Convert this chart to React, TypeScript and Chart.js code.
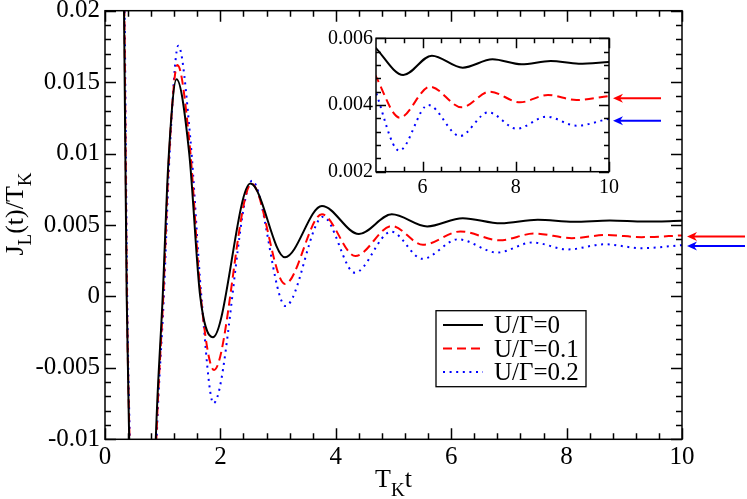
import { useEffect, useRef } from 'react';
import { Chart, registerables } from 'chart.js';

Chart.register(...registerables);

// ---------- data ----------
const seriesLabels = ['U/Γ=0', 'U/Γ=0.1', 'U/Γ=0.2'];

const tU0 = [0.0, 0.3, 0.33, 0.376, 0.42, 0.65, 0.88, 1.0, 1.1, 1.24, 1.46, 1.65, 1.87, 2.52, 3.12, 3.76, 4.4, 4.97, 5.585, 6.2, 6.86, 7.5, 8.12, 8.75, 9.35, 10.0];
const jU0 = [0.08, 0.03, 0.02, 0.0, -0.01, -0.045, -0.01, 0.0, 0.0095, 0.0152, 0.01, 0.0, -0.00286, 0.0079, 0.00274, 0.00633, 0.00437, 0.00575, 0.0049, 0.00548, 0.00512, 0.00537, 0.00522, 0.00532, 0.00524, 0.00529];

const tU01 = [0.0, 0.3, 0.335, 0.38, 0.425, 0.65, 0.89, 1.01, 1.11, 1.255, 1.47, 1.66, 1.89, 2.54, 3.12, 3.76, 4.34, 4.97, 5.51, 6.16, 6.84, 7.44, 8.09, 8.69, 9.3, 10.0];
const jU01 = [0.08, 0.031, 0.02, 0.0, -0.01, -0.045, -0.01, 0.0, 0.0098, 0.0162, 0.0105, 0.0, -0.00515, 0.0079, 0.00087, 0.00575, 0.00283, 0.00493, 0.00362, 0.00455, 0.00393, 0.0044, 0.00408, 0.0043, 0.00415, 0.00427];

const tU02 = [0.0, 0.3, 0.34, 0.385, 0.43, 0.65, 0.895, 1.02, 1.12, 1.27, 1.48, 1.67, 1.88, 2.55, 3.13, 3.78, 4.33, 4.96, 5.5, 6.12, 6.8, 7.41, 8.02, 8.66, 9.3, 10.0];
const jU02 = [0.08, 0.032, 0.02, 0.0, -0.01, -0.045, -0.01, 0.0, 0.01, 0.01755, 0.011, 0.0, -0.00748, 0.0081, -0.00067, 0.00558, 0.00166, 0.00453, 0.00263, 0.004, 0.00307, 0.00378, 0.00329, 0.00365, 0.00338, 0.00359];

// asymptotic values marked by arrows (U/Γ=0.1, U/Γ=0.2)
const arrowValues = [0.0042, 0.00353];

// tick labels
const mainXTicks = [0, 2, 4, 6, 8, 10];
const mainYTicks = [-0.01, -0.005, 0, 0.005, 0.01, 0.015, 0.02];
const insetXTicks = [6, 8, 10];
const insetYTicks = [0.002, 0.004, 0.006];

// ---------- styling ----------
const FONT = '"Liberation Serif"';
Chart.defaults.font.family = FONT;
const colors = ['#000000', '#ff0000', '#0000ff'];
const dashes: number[][] = [[], [9, 5], [2, 4.6]];

const zip = (xs: number[], ys: number[]) => xs.map((x, i) => ({ x, y: ys[i] }));

function makeDatasets() {
  const ts = [tU0, tU01, tU02];
  const js = [jU0, jU01, jU02];
  return seriesLabels.map((label, i) => ({
    label,
    data: zip(ts[i], js[i]),
    borderColor: colors[i],
    backgroundColor: colors[i],
    borderWidth: 2,
    borderDash: dashes[i],
    borderCapStyle: 'butt' as const,
    pointRadius: 0,
    fill: false,
    cubicInterpolationMode: 'monotone' as const,
  }));
}

const fmt = (v: number | string) => {
  const n = Math.round(Number(v) * 1e6) / 1e6;
  return n === 0 ? '0' : String(n);
};

function drawFrame(chart: any, xMinor: number, yMinor: number, xMajor: number[], yMajor: number[], majLen: number, minLen: number) {
  const { ctx, chartArea: a } = chart;
  const xs = chart.scales.x;
  const ys = chart.scales.y;
  ctx.save();
  ctx.strokeStyle = '#000';
  ctx.lineWidth = 1.5;
  ctx.setLineDash([]);
  ctx.beginPath();
  const isMajor = (v: number, arr: number[]) => arr.some((m) => Math.abs(m - v) < 1e-9);
  const kx0 = Math.ceil(xs.min / xMinor - 1e-9);
  const kx1 = Math.floor(xs.max / xMinor + 1e-9);
  for (let k = kx0; k <= kx1; k++) {
    const v = k * xMinor;
    const len = isMajor(v, xMajor) ? majLen : minLen;
    const px = Math.round(xs.getPixelForValue(v)) + 0.5;
    ctx.moveTo(px, a.bottom);
    ctx.lineTo(px, a.bottom - len);
    ctx.moveTo(px, a.top);
    ctx.lineTo(px, a.top + len);
  }
  const ky0 = Math.ceil(ys.min / yMinor - 1e-9);
  const ky1 = Math.floor(ys.max / yMinor + 1e-9);
  for (let k = ky0; k <= ky1; k++) {
    const v = k * yMinor;
    const len = isMajor(v, yMajor) ? majLen : minLen;
    const py = Math.round(ys.getPixelForValue(v)) + 0.5;
    ctx.moveTo(a.left, py);
    ctx.lineTo(a.left + len, py);
    ctx.moveTo(a.right, py);
    ctx.lineTo(a.right - len, py);
  }
  ctx.stroke();
  ctx.strokeRect(a.left, a.top, a.right - a.left, a.bottom - a.top);
  ctx.restore();
}

function drawArrow(ctx: CanvasRenderingContext2D, xTip: number, xEnd: number, y: number, color: string) {
  ctx.save();
  ctx.strokeStyle = color;
  ctx.fillStyle = color;
  ctx.lineWidth = 2;
  ctx.setLineDash([]);
  ctx.beginPath();
  ctx.moveTo(xTip + 5, y);
  ctx.lineTo(xEnd, y);
  ctx.stroke();
  ctx.beginPath();
  ctx.moveTo(xTip, y);
  ctx.lineTo(xTip + 10, y - 4.5);
  ctx.lineTo(xTip + 7, y);
  ctx.lineTo(xTip + 10, y + 4.5);
  ctx.closePath();
  ctx.fill();
  ctx.restore();
}

function drawRich(ctx: CanvasRenderingContext2D, pieces: [string, boolean][], cx: number, baseY: number, mainSize: number, subSize: number, subDrop: number) {
  const widths = pieces.map(([t, sub]) => {
    ctx.font = `${sub ? subSize : mainSize}px ${FONT}`;
    return ctx.measureText(t).width;
  });
  const total = widths.reduce((s, w) => s + w, 0);
  let x = cx - total / 2;
  ctx.textAlign = 'left';
  ctx.textBaseline = 'alphabetic';
  pieces.forEach(([t, sub], i) => {
    ctx.font = `${sub ? subSize : mainSize}px ${FONT}`;
    ctx.fillText(t, x, baseY + (sub ? subDrop : 0));
    x += widths[i];
  });
}

const mainPlugin = {
  id: 'mainDecor',
  afterDraw(chart: any) {
    const { ctx, chartArea: a } = chart;
    drawFrame(chart, 0.4, 0.001, mainXTicks, mainYTicks, 11, 6);
    const ys = chart.scales.y;
    arrowValues.forEach((v, i) => {
      drawArrow(ctx, a.right + 5, a.right + 63, ys.getPixelForValue(v), colors[i + 1]);
    });
    ctx.save();
    ctx.fillStyle = '#000';
    drawRich(ctx, [['T', false], ['K', true], ['t', false]], (a.left + a.right) / 2, 486.7, 26, 19, 9);
    ctx.save();
    ctx.translate(23, 214);
    ctx.rotate(-Math.PI / 2);
    drawRich(ctx, [['J', false], ['L', true], ['(t)/T', false], ['K', true]], 0, 0, 26, 19, 8);
    ctx.restore();
    const lx = 436, ly = 310.7, lw = 150, lh = 76;
    ctx.fillStyle = '#fff';
    ctx.fillRect(lx, ly, lw, lh);
    ctx.strokeStyle = '#000';
    ctx.lineWidth = 1.3;
    ctx.setLineDash([]);
    ctx.strokeRect(lx, ly, lw, lh);
    const rowsY = [325, 348.5, 372];
    const ds = chart.data.datasets;
    ds.forEach((d: any, i: number) => {
      ctx.save();
      ctx.strokeStyle = d.borderColor;
      ctx.lineWidth = 2;
      ctx.lineCap = 'butt';
      ctx.setLineDash(d.borderDash || []);
      ctx.beginPath();
      ctx.moveTo(443, rowsY[i]);
      ctx.lineTo(483, rowsY[i]);
      ctx.stroke();
      ctx.restore();
      ctx.fillStyle = '#000';
      ctx.font = `25px ${FONT}`;
      ctx.textAlign = 'left';
      ctx.textBaseline = 'alphabetic';
      ctx.fillText(d.label, 494, rowsY[i] + 8.3);
    });
    ctx.restore();
  },
};

const insetPlugin = {
  id: 'insetDecor',
  afterDraw(chart: any) {
    const { ctx, chartArea: a } = chart;
    drawFrame(chart, 0.4, 0.0004, insetXTicks, insetYTicks, 10, 5);
    const ys = chart.scales.y;
    arrowValues.forEach((v, i) => {
      drawArrow(ctx, a.right + 4, a.right + 52, ys.getPixelForValue(v), colors[i + 1]);
    });
  },
};

function scaleCommon(size: number, pad: number) {
  return {
    type: 'linear' as const,
    grid: { display: false, drawTicks: false },
    border: { display: false },
    ticks: {
      color: '#000',
      font: { family: FONT, size },
      padding: pad,
      maxRotation: 0,
      autoSkip: false,
      callback: (v: number | string) => fmt(v),
    },
  };
}

function mainConfig(): any {
  return {
    type: 'line',
    data: { datasets: makeDatasets() },
    plugins: [mainPlugin],
    options: {
      responsive: false,
      animation: false,
      events: [],
      layout: { padding: { left: 0, right: 65, top: 10.7, bottom: 0 } },
      plugins: { legend: { display: false }, tooltip: { enabled: false } },
      scales: {
        x: {
          ...scaleCommon(25, 3),
          min: 0,
          max: 10,
          afterBuildTicks: (s: any) => { s.ticks = mainXTicks.map((value) => ({ value })); },
          afterFit: (s: any) => { s.height = 59.7; s.paddingLeft = 0; s.paddingRight = 0; },
        },
        y: {
          ...scaleCommon(25, 5),
          min: -0.01,
          max: 0.02,
          afterBuildTicks: (s: any) => { s.ticks = mainYTicks.map((value) => ({ value })); },
          afterFit: (s: any) => { s.width = 105; s.paddingTop = 0; s.paddingBottom = 0; },
        },
      },
    },
  };
}

function insetConfig(): any {
  return {
    type: 'line',
    data: { datasets: makeDatasets() },
    plugins: [insetPlugin],
    options: {
      responsive: false,
      animation: false,
      events: [],
      layout: { padding: { left: 0, right: 61, top: 13.3, bottom: 0 } },
      plugins: { legend: { display: false }, tooltip: { enabled: false } },
      scales: {
        x: {
          ...scaleCommon(20, 4),
          min: 5,
          max: 10,
          afterBuildTicks: (s: any) => { s.ticks = insetXTicks.map((value) => ({ value })); },
          afterFit: (s: any) => { s.height = 28.3; s.paddingLeft = 0; s.paddingRight = 0; },
        },
        y: {
          ...scaleCommon(20, 3),
          min: 0.002,
          max: 0.006,
          afterBuildTicks: (s: any) => { s.ticks = insetYTicks.map((value) => ({ value })); },
          afterFit: (s: any) => { s.width = 66; s.paddingTop = 0; s.paddingBottom = 0; },
        },
      },
    },
  };
}

export default function App() {
  const mainRef = useRef<HTMLCanvasElement>(null);
  const insetRef = useRef<HTMLCanvasElement>(null);
  useEffect(() => {
    const mc = mainRef.current as HTMLCanvasElement;
    const ic = insetRef.current as HTMLCanvasElement;
    const mctx = mc.getContext('2d', { willReadFrequently: true }) as CanvasRenderingContext2D;
    const ictx = ic.getContext('2d', { willReadFrequently: true }) as CanvasRenderingContext2D;
    const main = new Chart(mctx, mainConfig());
    const inset = new Chart(ictx, insetConfig());
    let alive = true;
    const redraw = () => {
      if (!alive) return;
      main.update('none');
      inset.update('none');
    };
    const fonts = (document as any).fonts;
    if (fonts && fonts.ready) fonts.ready.then(redraw);
    const t1 = window.setTimeout(redraw, 100);
    return () => {
      alive = false;
      window.clearTimeout(t1);
      main.destroy();
      inset.destroy();
    };
  }, []);
  return (
    <div style={{ position: 'absolute', left: 0, top: 0, width: 747, height: 499, background: '#fff' }}>
      <canvas ref={mainRef} width={747} height={499} style={{ position: 'absolute', left: 0, top: 0, width: 747, height: 499 }} />
      <canvas ref={insetRef} width={360} height={175} style={{ position: 'absolute', left: 310, top: 25, width: 360, height: 175 }} />
    </div>
  );
}
